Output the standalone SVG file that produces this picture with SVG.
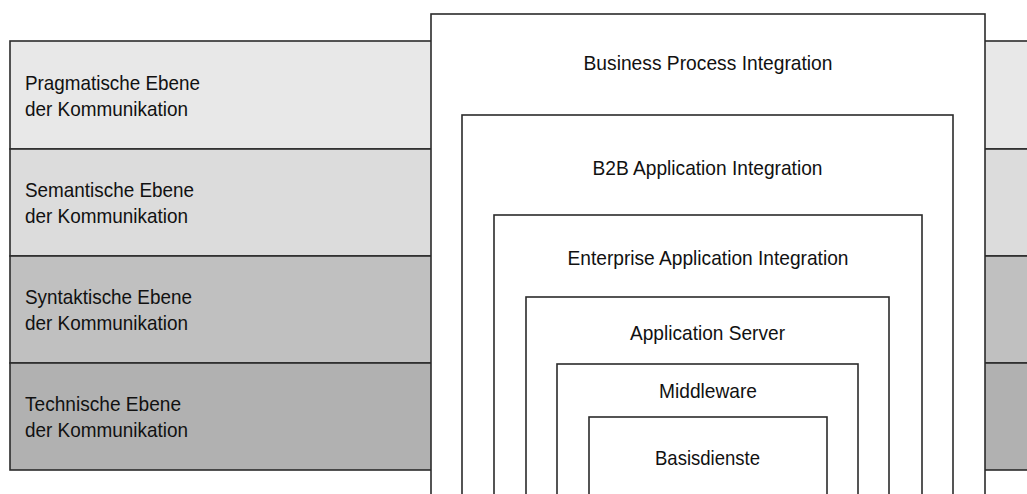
<svg xmlns="http://www.w3.org/2000/svg" width="1027" height="494" viewBox="0 0 1027 494">
<style>
.band{stroke:#2b2b2b;stroke-width:1.6}
.box{fill:#ffffff;stroke:#2b2b2b;stroke-width:1.6}
text{font-family:"Liberation Sans",Arial,sans-serif;font-size:21px;fill:#111111}
.c{text-anchor:middle}
</style>
<rect x="0" y="0" width="1027" height="494" fill="#ffffff"/>
<g id="band-pragmatisch">
<rect class="band" x="10" y="41" width="1030" height="108" fill="#e8e8e8"/>
<text x="25" y="90" textLength="175" lengthAdjust="spacingAndGlyphs">Pragmatische Ebene</text>
<text x="25" y="116" textLength="163" lengthAdjust="spacingAndGlyphs">der Kommunikation</text>
</g>
<g id="band-semantisch">
<rect class="band" x="10" y="149" width="1030" height="107" fill="#dcdcdc"/>
<text x="25" y="197" textLength="169" lengthAdjust="spacingAndGlyphs">Semantische Ebene</text>
<text x="25" y="223" textLength="163" lengthAdjust="spacingAndGlyphs">der Kommunikation</text>
</g>
<g id="band-syntaktisch">
<rect class="band" x="10" y="256" width="1030" height="107" fill="#c0c0c0"/>
<text x="25" y="304" textLength="167" lengthAdjust="spacingAndGlyphs">Syntaktische Ebene</text>
<text x="25" y="330" textLength="163" lengthAdjust="spacingAndGlyphs">der Kommunikation</text>
</g>
<g id="band-technisch">
<rect class="band" x="10" y="363" width="1030" height="107" fill="#b1b1b1"/>
<text x="25" y="411" textLength="156" lengthAdjust="spacingAndGlyphs">Technische Ebene</text>
<text x="25" y="437" textLength="163" lengthAdjust="spacingAndGlyphs">der Kommunikation</text>
</g>
<g id="box-bpi">
<rect class="box" x="431" y="14" width="554" height="500"/>
<text class="c" x="708" y="70" textLength="249" lengthAdjust="spacingAndGlyphs">Business Process Integration</text>
</g>
<g id="box-b2b">
<rect class="box" x="462" y="115" width="491" height="400"/>
<text class="c" x="707.5" y="175" textLength="230" lengthAdjust="spacingAndGlyphs">B2B Application Integration</text>
</g>
<g id="box-eai">
<rect class="box" x="494" y="215" width="428" height="300"/>
<text class="c" x="708" y="265" textLength="281" lengthAdjust="spacingAndGlyphs">Enterprise Application Integration</text>
</g>
<g id="box-appserver">
<rect class="box" x="526" y="297" width="363" height="220"/>
<text class="c" x="707.5" y="340" textLength="155" lengthAdjust="spacingAndGlyphs">Application Server</text>
</g>
<g id="box-middleware">
<rect class="box" x="557" y="364" width="301" height="150"/>
<text class="c" x="708" y="398" textLength="98" lengthAdjust="spacingAndGlyphs">Middleware</text>
</g>
<g id="box-basisdienste">
<rect class="box" x="589" y="417" width="238" height="100"/>
<text class="c" x="707.5" y="465" textLength="105" lengthAdjust="spacingAndGlyphs">Basisdienste</text>
</g>
<g id="connectors"></g>
</svg>
